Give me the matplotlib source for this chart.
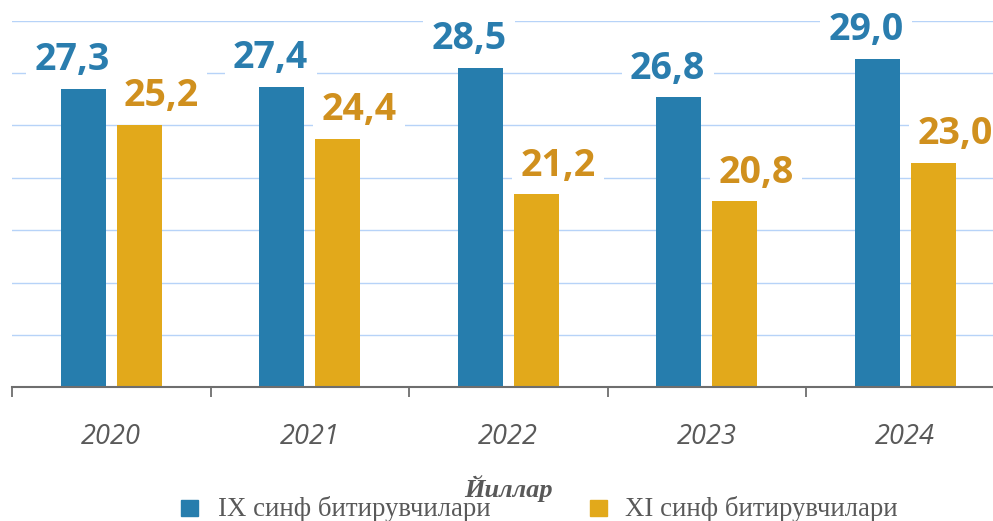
import matplotlib
matplotlib.use("Agg")
import matplotlib.pyplot as plt
from matplotlib.patches import Rectangle
import numpy as np

years = ["2020", "2021", "2022", "2023", "2024"]
ix_grad = [27.3, 27.4, 28.5, 26.8, 29.0]
xi_grad = [25.2, 24.4, 21.2, 20.8, 23.0]
series_names = ["IX синф битирувчилари", "XI синф битирувчилари"]
bar_colors = ["#267DAD", "#E2A91B"]
label_colors = ["#2A7DAE", "#D0901E"]
axis_title = "Йиллар"

W, H = 993, 521
fig = plt.figure(figsize=(W / 100, H / 100), dpi=100)

def fy(py):
    return 1 - py / H

ax_left = 12 / W
ax_w = 5 * 198.5 / W
ax_bottom = fy(387.3)
ax_h = (387.3 - 20.7) / H
ax = fig.add_axes([ax_left, ax_bottom, ax_w, ax_h])

YMIN, YMAX = 10.07, 31.22

x = np.arange(len(years))
bw = 0.2267
off = 0.141
series = [ix_grad, xi_grad]
label_dx = [-8.0, 15.5]  # points

for i, vals in enumerate(series):
    xs = x + (-off if i == 0 else off)
    ax.bar(xs, np.array(vals) - YMIN, bottom=YMIN, width=bw, color=bar_colors[i], zorder=3)
    for xx, v in zip(xs, vals):
        ax.annotate(f"{v:.1f}".replace(".", ","), xy=(xx, v), xytext=(label_dx[i], 13.5),
                    textcoords="offset points", ha="center", va="baseline",
                    fontsize=27, fontweight="bold", family="Open Sans",
                    color=label_colors[i], zorder=5, annotation_clip=False,
                    bbox=dict(boxstyle="square,pad=0.22", fc="white", ec="none"))

ax.set_xlim(-0.5, 4.5)
ax.set_ylim(YMIN, YMAX)
ax.set_yticks(np.linspace(YMIN, YMAX, 8))
ax.yaxis.grid(True, color="#B7D3F8", linewidth=1.0)
ax.set_axisbelow(True)
ax.tick_params(axis="y", left=False, labelleft=False)
for s in ["top", "right", "left"]:
    ax.spines[s].set_visible(False)
ax.spines["bottom"].set_color("#6E6E6E")
ax.spines["bottom"].set_linewidth(1.5)
ax.spines["bottom"].set_zorder(4)
ax.set_xticks(np.arange(-0.5, 5, 1))
ax.set_xticklabels([])
ax.tick_params(axis="x", direction="out", length=7.5, width=1.3, color="#6E6E6E")

# year labels
for xx, yr in zip(x, years):
    fig.text(ax_left + ax_w * (xx + 0.5) / 5, fy(444.3), yr, ha="center", va="baseline",
             fontsize=19.5, style="italic", family="Open Sans", color="#595959")

fig.text(508 / W, fy(496.5), axis_title, ha="center", va="baseline", fontsize=19,
         fontweight="bold", style="italic", family="Liberation Serif", color="#595959")

# legend
sq_x = [181, 590]
txt_x = [218, 625]
for i in range(2):
    fig.patches.append(Rectangle((sq_x[i] / W, fy(516)), 16.5 / W, 16 / H,
                                 transform=fig.transFigure, color=bar_colors[i]))
    fig.text(txt_x[i] / W, fy(516.5), series_names[i], ha="left", va="baseline",
             fontsize=19.3, family="Liberation Serif", color="#595959")

fig.savefig("out.png", dpi=100)
